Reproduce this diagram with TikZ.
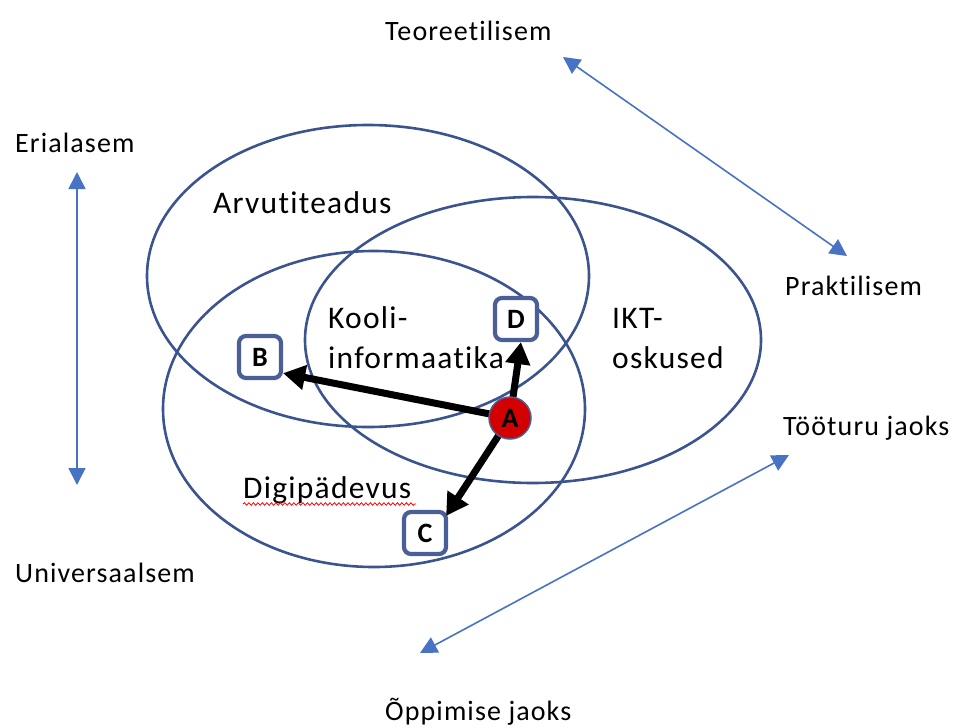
\documentclass[tikz,border=0pt]{standalone}
\usepackage{fontspec}
\setmainfont{Carlito}[LetterSpace=4,Ligatures=NoCommon]
\usetikzlibrary{arrows.meta,decorations.pathmorphing}
\definecolor{ellc}{RGB}{59,84,143}
\definecolor{bluearr}{RGB}{72,114,196}
\definecolor{boxc}{RGB}{74,94,152}
\definecolor{ared}{RGB}{210,0,0}
\begin{document}
\begin{tikzpicture}[x=1pt,y=-1pt,
  lbl/.style={anchor=base west,inner sep=0pt,font=\fontsize{28}{34}\selectfont},
  elbl/.style={anchor=base west,inner sep=0pt,font=\fontsize{31.5}{37}\selectfont},
  ellline/.style={draw=ellc,line width=2.6pt},
  dblarrow/.style={draw=bluearr,line width=1.6pt,{Triangle[length=17pt,width=17pt]}-{Triangle[length=17pt,width=17pt]}},
  letterbox/.style={draw=boxc,line width=4.2pt,rounded corners=7pt,fill=white,minimum width=42pt,minimum height=42pt,inner sep=0pt,font=\fontsize{28}{32}\selectfont\bfseries},
  blackarrow/.style={draw=black,line width=7pt,-{Triangle[length=22pt,width=24pt]}}
]
\useasboundingbox (0,0) rectangle (962,728);
% ellipses
\draw[ellline] (368,276) ellipse [x radius=221, y radius=151];
\draw[ellline] (533,340) ellipse [x radius=228, y radius=143];
\draw[ellline] (374,409) ellipse [x radius=211, y radius=158];
% labels
\node[lbl] (teo) at (385,40) {Teoreetilisem};
\node[lbl] (eri) at (15,152) {Erialasem};
\node[elbl] (arv) at (213,213) {Arvutiteadus};
\node[lbl] (pra) at (785,295) {Praktilisem};
\node[elbl] (koo1) at (328,328) {Kooli-};
\node[elbl] (koo2) at (328,368) {informaatika};
\node[elbl] (ikt1) at (612,328) {IKT-};
\node[elbl] (ikt2) at (612,368) {oskused};
\node[lbl] (too) at (783,435) {Tööturu jaoks};
\node[elbl] (dig) at (243,498) {Digipädevus};
\node[lbl] (uni) at (15,582) {Universaalsem};
\node[lbl] (opp) at (385,720) {Õppimise jaoks};
\draw[red,line width=0.8pt,decorate,decoration={snake,amplitude=1.3pt,segment length=4.5pt}] (243,504) -- (416,504);
% blue double arrows
\coordinate (v1) at (77,172);
\coordinate (v2) at (77,485);
\coordinate (t1) at (563,57);
\coordinate (t2) at (847,256);
\coordinate (b1) at (789,455);
\coordinate (b2) at (420,653);
\draw[dblarrow] (v1) -- (v2);
\draw[dblarrow] (t1) -- (t2);
\draw[dblarrow] (b1) -- (b2);
% boxes
\node[letterbox] (B) at (260,357) {B};
\node[letterbox] (D) at (516,319) {D};
\node[letterbox] (C) at (425,533) {C};
\coordinate (A) at (510,418);
\draw[blackarrow] (A) -- (B.-35);
\draw[blackarrow] (A) -- (D.-78);
\draw[blackarrow] (A) -- ([xshift=-2pt,yshift=-6pt]C.north east);
\node[circle,fill=ared,draw=boxc,line width=1.5pt,minimum size=42pt,inner sep=0pt,font=\fontsize{28}{32}\selectfont\bfseries] (Anode) at (A) {A};
\end{tikzpicture}
\end{document}
